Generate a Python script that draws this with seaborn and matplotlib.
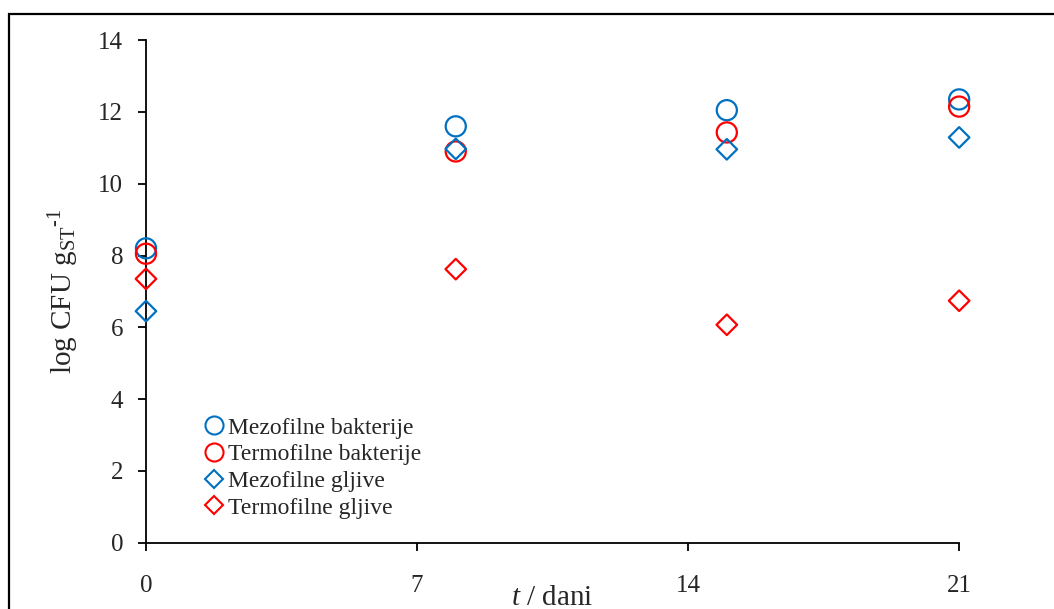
import pandas as pd
import matplotlib.pyplot as plt
import seaborn as sns
import numpy as np
from matplotlib.lines import Line2D
from matplotlib.patches import Rectangle

sns.set_theme(style="white")
plt.rcParams['font.family'] = ['Liberation Serif', 'DejaVu Serif']
plt.rcParams['mathtext.fontset'] = 'custom'
plt.rcParams['mathtext.rm'] = 'Liberation Serif'
plt.rcParams['mathtext.it'] = 'Liberation Serif:italic'

# podaci
dani = [0, 8, 15, 21]
mezo_bakterije = [8.2, 11.6, 12.05, 12.35]
termo_bakterije = [8.05, 10.9, 11.43, 12.15]
mezo_gljive = [6.45, 10.97, 10.96, 11.29]
termo_gljive = [7.35, 7.62, 6.07, 6.74]

plava = '#0070C0'
crvena = '#FF0000'

serije = [
    ('Mezofilne bakterije', mezo_bakterije, 'o', plava),
    ('Termofilne bakterije', termo_bakterije, 'o', crvena),
    ('Mezofilne gljive', mezo_gljive, 'D', plava),
    ('Termofilne gljive', termo_gljive, 'D', crvena),
]

fig = plt.figure(figsize=(10.54, 6.09), dpi=100)
ax = fig.add_axes([0.1385, 0.109, 0.7715, 0.825])

for naziv, vrijednosti, marker, boja in serije:
    velicina = 210 if marker == 'o' else 110
    sns.scatterplot(x=dani, y=vrijednosti, marker=marker, s=velicina,
                    facecolors='none', edgecolor=boja, linewidth=1.6, ax=ax,
                    zorder=3, clip_on=False)

ax.set_xlim(0, 21)
ax.set_ylim(0, 14)
ax.set_xticks([0, 7, 14, 21])
ax.set_yticks(np.arange(0, 15, 2))
ax.spines['top'].set_visible(False)
ax.spines['right'].set_visible(False)
for s in ['left', 'bottom']:
    ax.spines[s].set_color('black')
    ax.spines[s].set_linewidth(1.3)
ax.tick_params(axis='both', direction='out', length=5.5, width=1.3, color='black',
               labelsize=18, left=True, bottom=True)
ax.tick_params(axis='x', pad=18)
ax.tick_params(axis='y', pad=11)

ax.set_ylabel('log CFU g$_{\\mathregular{ST}}$$^{\\text{-1}}$', fontsize=21, labelpad=12)
ax.set_xlabel('$t$ / dani', fontsize=21, labelpad=-9)

rucke = [Line2D([], [], linestyle='none', marker=m, markersize=(13 if m == 'o' else 9.5),
                markerfacecolor='none', markeredgecolor=b, markeredgewidth=1.5)
         for _, _, m, b in serije]
ax.legend(rucke, [s[0] for s in serije], loc='upper left',
          bbox_to_anchor=(203 / 1054, 1 - 417 / 609), bbox_transform=fig.transFigure,
          frameon=False, fontsize=17, handlelength=0.9, handletextpad=0.15,
          labelspacing=0.22, borderpad=0, borderaxespad=0)

# okvir slike
fig.add_artist(Rectangle((9 / 1054, -0.1), 1.2, 1 - 14 / 609 + 0.1, transform=fig.transFigure,
                         fill=False, edgecolor='black', linewidth=1.6))

fig.savefig('out.png', dpi=100)
